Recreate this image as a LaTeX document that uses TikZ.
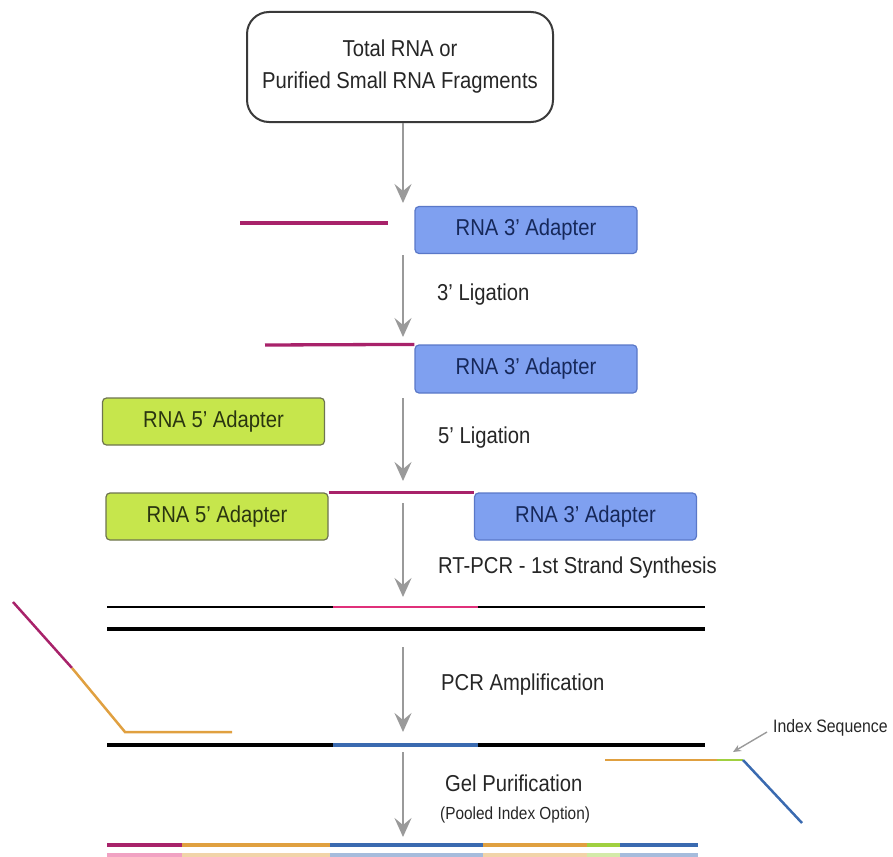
\documentclass[tikz,border=0pt]{standalone}
\usepackage{fontspec}
\setmainfont{Liberation Sans}[FakeStretch=0.88]
\usetikzlibrary{arrows.meta}
\definecolor{arrowgray}{HTML}{9A9A9A}
\definecolor{boxline}{HTML}{3A3A3A}
\definecolor{bluefill}{HTML}{7FA0F0}
\definecolor{blueline}{HTML}{5A78C8}
\definecolor{bluetext}{HTML}{16285A}
\definecolor{greenfill}{HTML}{C6E64C}
\definecolor{greenline}{HTML}{6E7450}
\definecolor{greentext}{HTML}{2A3510}
\definecolor{magD}{HTML}{A8226A}
\definecolor{magB}{HTML}{E0307A}
\definecolor{orangeL}{HTML}{E0A040}
\definecolor{blueL}{HTML}{3A6AB0}
\definecolor{greenL}{HTML}{A0D040}
\tikzset{
  flowarrow/.style={draw=arrowgray, line width=2.2pt, -{Stealth[length=19pt,width=17pt,inset=7pt]}},
  startbox/.style={draw=boxline, line width=2pt, rounded corners=22pt, fill=white,
    minimum width=306pt, minimum height=110pt, align=center,
    font=\fontsize{23}{32}\selectfont, text=black!85},
  adapt3/.style={draw=blueline, line width=1.2pt, fill=bluefill, rounded corners=4pt,
    minimum width=222pt, minimum height=47pt, inner sep=0pt,
    font=\fontsize{23}{26}\selectfont, text=bluetext},
  adapt5/.style={draw=greenline, line width=1.2pt, fill=greenfill, rounded corners=4pt,
    minimum width=222pt, minimum height=47pt, inner sep=0pt,
    font=\fontsize{23}{26}\selectfont, text=greentext},
  steplabel/.style={anchor=west, inner sep=0pt, font=\fontsize{23}{26}\selectfont, text=black!85},
  smalllabel/.style={anchor=west, inner sep=0pt, font=\fontsize{17.5}{20}\selectfont, text=black!85},
  strand/.style={line width=3.3pt},
}
\begin{document}
\begin{tikzpicture}[x=1pt,y=-1pt]
\useasboundingbox (0,0) rectangle (893,856);

% start box
\node[startbox] (start) at (400,67) {Total RNA or\\Purified Small RNA Fragments};

% row 1
\draw[strand, magD] (240,223) coordinate (r1a) -- (388,223) coordinate (r1b);
\node[adapt3] (b1) at (526,230) {RNA 3' Adapter};

% row 2
\node[adapt3, minimum height=48pt] (b2) at (526,369) {RNA 3' Adapter};
\draw[strand, magD] (265,345) coordinate (r2a) -- (b2.north west);
\node[adapt5] (g1) at (213.5,421.5) {RNA 5' Adapter};

% row 3
\node[adapt5] (g2) at (217,516.5) {RNA 5' Adapter};
\node[adapt3] (b3) at (585.5,516.5) {RNA 3' Adapter};
\draw[strand, magD, line width=2.8pt] (g2.north east) -- (b3.north west);

% row 4
\draw[line width=2.5pt, black] (107,607) coordinate (r4a) -- (333,607) coordinate (r4b);
\draw[line width=2.5pt, magB] (r4b) -- (478,607) coordinate (r4c);
\draw[line width=2.5pt, black] (r4c) -- (705,607) coordinate (r4d);
\draw[line width=4pt, black] (107,629) coordinate (r4e) -- (705,629) coordinate (r4f);

% left primer
\draw[line width=2.5pt, magD] (13,602) coordinate (lp1) -- (72,668) coordinate (lp2);
\draw[line width=2.5pt, orangeL] (lp2) -- (125,732) coordinate (lp3) -- (232,732) coordinate (lp4);

% row 5
\draw[strand, black] (107,745) coordinate (r5a) -- (333,745) coordinate (r5b);
\draw[strand, blueL] (r5b) -- (478,745) coordinate (r5c);
\draw[strand, black] (r5c) -- (705,745) coordinate (r5d);

% right primer
\draw[line width=2.5pt, orangeL] (605,760) coordinate (rp1) -- (717,760) coordinate (rp2);
\draw[line width=2.5pt, greenL] (rp2) -- (743,760) coordinate (rp3);
\draw[line width=2.5pt, blueL] (rp3) -- (802,823) coordinate (rp4);

% index label
\node[smalllabel, font=\fontsize{18}{20}\selectfont] (idx) at (773,728) {Index Sequence};
\draw[draw=arrowgray, line width=1.4pt, -{Stealth[length=8pt,width=7pt]}] (idx.west) ++(-6,4) coordinate (ia) -- (733,752) coordinate (ib);

% bottom product lines
\draw[strand, magD] (107,845) coordinate (p0) -- (182,845) coordinate (p1);
\draw[strand, orangeL] (p1) -- (330,845) coordinate (p2);
\draw[strand, blueL] (p2) -- (483,845) coordinate (p3);
\draw[strand, orangeL] (p3) -- (587,845) coordinate (p4);
\draw[strand, greenL] (p4) -- (620,845) coordinate (p5);
\draw[strand, blueL] (p5) -- (698,845) coordinate (p6);
\draw[strand, magB!45] (107,855) coordinate (q0) -- (182,855) coordinate (q1);
\draw[strand, orangeL!45] (q1) -- (330,855) coordinate (q2);
\draw[strand, blueL!45] (q2) -- (483,855) coordinate (q3);
\draw[strand, orangeL!45] (q3) -- (587,855) coordinate (q4);
\draw[strand, greenL!45] (q4) -- (620,855) coordinate (q5);
\draw[strand, blueL!45] (q5) -- (698,855) coordinate (q6);

% flow arrows
\coordinate (a1e) at (403,203);
\draw[flowarrow] (start.south -| a1e) -- (a1e);
\draw[flowarrow] (403,255) coordinate (a2s) -- (403,337) coordinate (a2e);
\draw[flowarrow] (403,398) coordinate (a3s) -- (403,481) coordinate (a3e);
\draw[flowarrow] (403,503) coordinate (a4s) -- (403,597) coordinate (a4e);
\draw[flowarrow] (403,647) coordinate (a5s) -- (403,732) coordinate (a5e);
\draw[flowarrow] (403,752) coordinate (a6s) -- (403,837) coordinate (a6e);

% step labels
\node[steplabel] (l1) at (437,295) {3' Ligation};
\node[steplabel] (l2) at (438,438) {5' Ligation};
\node[steplabel] (l3) at (438,568) {RT-PCR - 1st Strand Synthesis};
\node[steplabel] (l4) at (441,685) {PCR Amplification};
\node[steplabel] (l5) at (445,783) {Gel Purification};
\node[smalllabel] (l6) at (440,815) {(Pooled Index Option)};
\end{tikzpicture}
\end{document}
